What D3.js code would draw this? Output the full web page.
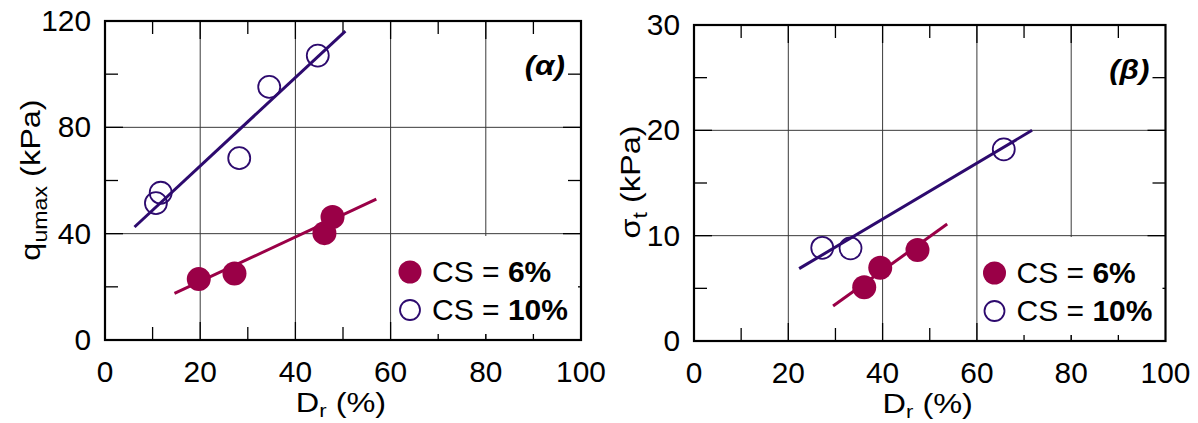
<!DOCTYPE html>
<html><head><meta charset="utf-8">
<script src="https://cdn.jsdelivr.net/npm/d3@7"></script>
<style>body{margin:0;background:#fff}svg{display:block}text{font-family:"Liberation Sans",Arial,sans-serif;fill:#000}</style>
</head><body>
<svg id="c" width="1198" height="423"></svg>
<script>
// ---- data ----
const xTicks = [0, 20, 40, 60, 80, 100];
const yTicksA = [0, 40, 80, 120];
const yTicksB = [0, 10, 20, 30];

// panel (α): q_umax vs Dr
const drA6 = [19.7, 27.2, 46.1, 47.8];
const qA6 = [22.9, 25.0, 40.2, 46.3];
const drA10 = [10.7, 11.7, 28.2, 34.5, 44.7];
const qA10 = [51.5, 55.4, 68.4, 95.2, 107.0];
const fitA6x = [14.6, 57.0], fitA6y = [17.5, 53.0];
const fitA10x = [6.2, 50.5], fitA10y = [42.5, 116.2];

// panel (β): σt vs Dr
const drB6 = [36.1, 39.5, 47.4];
const sB6 = [5.1, 6.96, 8.63];
const drB10 = [27.2, 33.2, 65.7];
const sB10 = [8.85, 8.8, 18.2];
const fitB6x = [29.5, 53.7], fitB6y = [3.32, 11.1];
const fitB10x = [22.3, 71.7], fitB10y = [6.87, 20.0];

const legendLabels = [["CS = ", "6%"], ["CS = ", "10%"]];

const C6 = "#9a0047", C10 = "#2d0a6e";
const svg = d3.select("#c");

function txt(g, x, y, sx, rot) {
  return g.append("text").attr("transform", `translate(${x},${y})${rot ? " rotate(" + rot + ")" : ""} scale(${sx},1)`);
}

function panel(o) {
  const g = svg.append("g");
  const x = d3.scaleLinear().domain([0, 100]).range([o.x0, o.x1]);
  const y = d3.scaleLinear().domain([0, o.ymax]).range([o.y0, o.y1]);
  // grid
  g.append("g").selectAll("line").data(xTicks.slice(1, -1)).join("line")
    .attr("x1", d => x(d)).attr("x2", d => x(d)).attr("y1", o.y0).attr("y2", o.y1)
    .attr("stroke", "#3a3a3a").attr("stroke-width", 1);
  g.append("g").selectAll("line").data(o.yTicks.slice(1, -1)).join("line")
    .attr("y1", d => y(d)).attr("y2", d => y(d)).attr("x1", o.x0).attr("x2", o.x1)
    .attr("stroke", "#3a3a3a").attr("stroke-width", 1);
  // minor ticks (inside, all four sides)
  const mx = d3.range(10, 100, 20);
  const my = o.yMinor;
  const tl = 13;
  const tg = g.append("g").attr("stroke", "#000").attr("stroke-width", 1.3);
  mx.forEach(v => {
    tg.append("line").attr("x1", x(v)).attr("x2", x(v)).attr("y1", o.y0).attr("y2", o.y0 - tl);
    tg.append("line").attr("x1", x(v)).attr("x2", x(v)).attr("y1", o.y1).attr("y2", o.y1 + tl);
  });
  my.forEach(v => {
    tg.append("line").attr("y1", y(v)).attr("y2", y(v)).attr("x1", o.x0).attr("x2", o.x0 + tl);
    tg.append("line").attr("y1", y(v)).attr("y2", y(v)).attr("x1", o.x1).attr("x2", o.x1 - tl);
  });
  // major ticks
  xTicks.slice(1, -1).forEach(v => {
    tg.append("line").attr("x1", x(v)).attr("x2", x(v)).attr("y1", o.y0).attr("y2", o.y0 - 18);
    tg.append("line").attr("x1", x(v)).attr("x2", x(v)).attr("y1", o.y1).attr("y2", o.y1 + 18);
  });
  o.yTicks.slice(1, -1).forEach(v => {
    tg.append("line").attr("y1", y(v)).attr("y2", y(v)).attr("x1", o.x0).attr("x2", o.x0 + 18);
    tg.append("line").attr("y1", y(v)).attr("y2", y(v)).attr("x1", o.x1).attr("x2", o.x1 - 18);
  });
  // legend background
  g.append("rect").attr("x", o.x1 - 185).attr("y", o.y0 - 104).attr("width", 182).attr("height", 98).attr("fill", "#fff");
  // fit lines
  const line = d3.line().x(d => x(d[0])).y(d => y(d[1]));
  g.append("path").attr("d", line(d3.zip(o.f6x, o.f6y))).attr("stroke", C6).attr("stroke-width", 3).attr("fill", "none");
  g.append("path").attr("d", line(d3.zip(o.f10x, o.f10y))).attr("stroke", C10).attr("stroke-width", 3).attr("fill", "none");
  // points
  g.append("g").selectAll("circle").data(d3.zip(o.d10x, o.d10y)).join("circle")
    .attr("cx", d => x(d[0])).attr("cy", d => y(d[1])).attr("r", 11)
    .attr("fill", "none").attr("stroke", C10).attr("stroke-width", 1.8);
  g.append("g").selectAll("circle").data(d3.zip(o.d6x, o.d6y)).join("circle")
    .attr("cx", d => x(d[0])).attr("cy", d => y(d[1])).attr("r", 12)
    .attr("fill", C6);
  // frame
  g.append("rect").attr("x", o.x0).attr("y", o.y1).attr("width", o.x1 - o.x0).attr("height", o.y0 - o.y1)
    .attr("fill", "none").attr("stroke", "#000").attr("stroke-width", 2.2);
  // tick labels
  xTicks.forEach(d => txt(g, x(d), o.y0 + 42, 1.03).attr("text-anchor", "middle").attr("font-size", 29).text(d));
  o.yTicks.forEach(d => txt(g, o.x0 - 14, y(d) + 10, 1.03).attr("text-anchor", "end").attr("font-size", 29).text(d));
  // x title
  const xt = txt(g, (o.x0 + o.x1) / 2 - 2, o.y0 + 72, 1.16).attr("text-anchor", "middle").attr("font-size", 28);
  xt.append("tspan").text("D");
  xt.append("tspan").attr("dy", 5).attr("font-size", 19).text("r");
  xt.append("tspan").attr("dy", -5).text(" (%)");
  // y title
  const yt = txt(g, o.ytx, o.yty, 1.16, -90).attr("text-anchor", "middle").attr("font-size", 28);
  yt.append("tspan").text(o.ysym);
  yt.append("tspan").attr("dy", 7).attr("font-size", 20).text(o.ysub);
  yt.append("tspan").attr("dy", -7).text(" (kPa)");
  // panel label
  txt(g, o.x1 - 16, o.y1 + 54, 1.12).attr("text-anchor", "end")
    .attr("font-size", 28).attr("font-weight", "bold").attr("font-style", "italic").text(o.tag);
  // legend
  const lx = o.x1 - 171, ly = o.y0 - 68;
  g.append("circle").attr("cx", lx).attr("cy", ly).attr("r", 11.5).attr("fill", C6);
  g.append("circle").attr("cx", lx).attr("cy", ly + 38).attr("r", 10).attr("fill", "none").attr("stroke", C10).attr("stroke-width", 1.8);
  legendLabels.forEach((l, i) => {
    const t = txt(g, lx + 22, ly + 10 + i * 38, 1.035).attr("font-size", 29);
    t.append("tspan").text(l[0]);
    t.append("tspan").attr("font-weight", "bold").text(l[1]);
  });
}

panel({x0: 105, x1: 581, y0: 340, y1: 21, ymax: 120, yTicks: yTicksA, yMinor: [20, 60, 100],
  d6x: drA6, d6y: qA6, d10x: drA10, d10y: qA10, f6x: fitA6x, f6y: fitA6y, f10x: fitA10x, f10y: fitA10y,
  ytx: 40, yty: 180, ysym: "q", ysub: "umax", tag: "(α)"});
panel({x0: 694, x1: 1165.5, y0: 341, y1: 25, ymax: 30, yTicks: yTicksB, yMinor: [5, 15, 25],
  d6x: drB6, d6y: sB6, d10x: drB10, d10y: sB10, f6x: fitB6x, f6y: fitB6y, f10x: fitB10x, f10y: fitB10y,
  ytx: 640, yty: 182, ysym: "σ", ysub: "t", tag: "(β)"});
</script>
</body></html>
